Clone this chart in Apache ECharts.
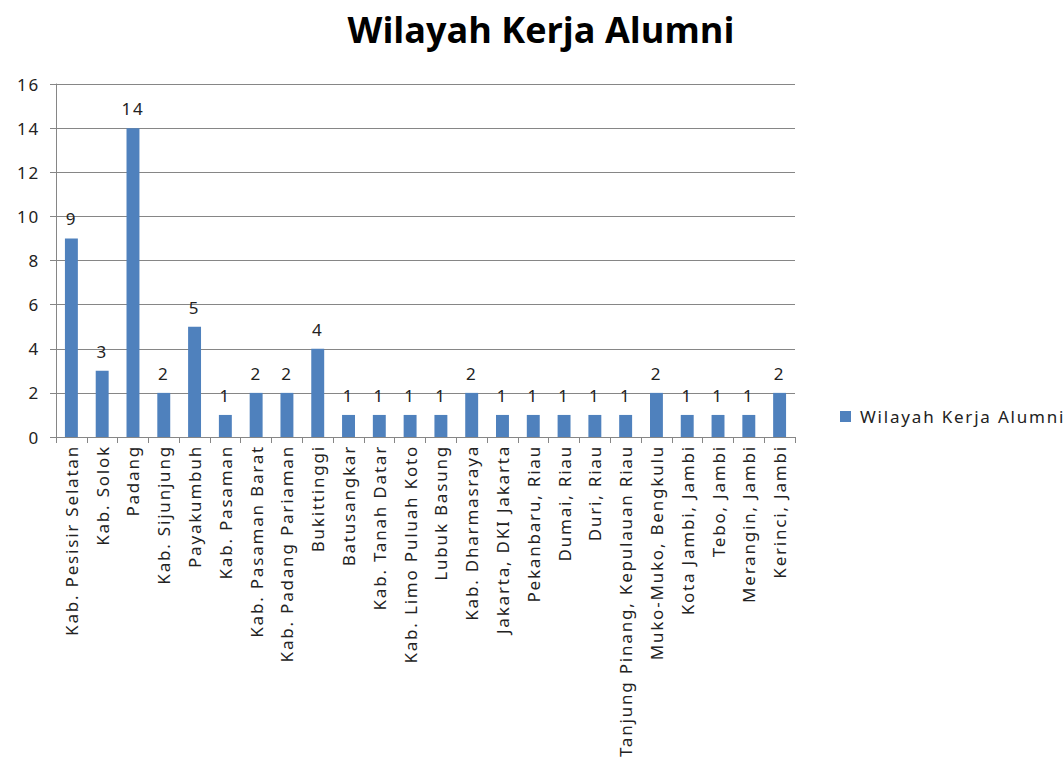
<!DOCTYPE html>
<html><head><meta charset="utf-8">
<script src="https://cdn.jsdelivr.net/npm/echarts@6/dist/echarts.min.js"></script>
<style>html,body{margin:0;padding:0;background:#fff}#c{width:1064px;height:758px}
#c text[style*="Noto"]{letter-spacing:1.8px}
</style>
</head><body><div id="c"></div>
<script>
const categories = ["Kab. Pesisir Selatan","Kab. Solok","Padang","Kab. Sijunjung","Payakumbuh","Kab. Pasaman","Kab. Pasaman Barat","Kab. Padang Pariaman","Bukittinggi","Batusangkar","Kab. Tanah Datar","Kab. Limo Puluah Koto","Lubuk Basung","Kab. Dharmasraya","Jakarta, DKI Jakarta","Pekanbaru, Riau","Dumai, Riau","Duri, Riau","Tanjung Pinang, Kepulauan Riau","Muko-Muko, Bengkulu","Kota Jambi, Jambi","Tebo, Jambi","Merangin, Jambi","Kerinci, Jambi"];
const values = [9,3,14,2,5,1,2,2,4,1,1,1,1,2,1,1,1,1,1,2,1,1,1,2];
const seriesName = "Wilayah Kerja Alumni";
const titleText = "Wilayah Kerja Alumni";
const font = "Noto Sans";
const chart = echarts.init(document.getElementById('c'), null, {renderer:'svg'});
chart.setOption({
  animation:false,
  title:{text:titleText,left:536,top:6,textAlign:'center',textStyle:{fontFamily:'Open Sans',fontWeight:'bold',fontSize:36,color:'#000'}},
  legend:{left:835,top:403,itemWidth:11,itemHeight:11,icon:'rect',textStyle:{fontFamily:font,fontSize:17,color:'#222',padding:[0,0,0,4]}},
  grid:{left:56,right:269,top:84,bottom:321,containLabel:false},
  xAxis:{type:'category',data:categories,
    axisLine:{lineStyle:{color:'#868686'}},
    axisTick:{show:true,length:6,lineStyle:{color:'#868686'}},
    axisLabel:{rotate:90,interval:0,fontFamily:font,fontSize:17,color:'#222',margin:8}},
  yAxis:{type:'value',min:0,max:16,interval:2,
    axisLine:{show:true,lineStyle:{color:'#868686'}},
    axisTick:{show:true,length:6,lineStyle:{color:'#868686'}},
    splitLine:{lineStyle:{color:'#868686'}},
    axisLabel:{fontFamily:font,fontSize:17,color:'#222',margin:16}},
  series:[{name:seriesName,type:'bar',data:values,barWidth:'42%',itemStyle:{color:'#4F81BD'},
    label:{show:true,position:'top',distance:11,fontFamily:font,fontSize:17,color:'#222'}}]
});
</script></body></html>
